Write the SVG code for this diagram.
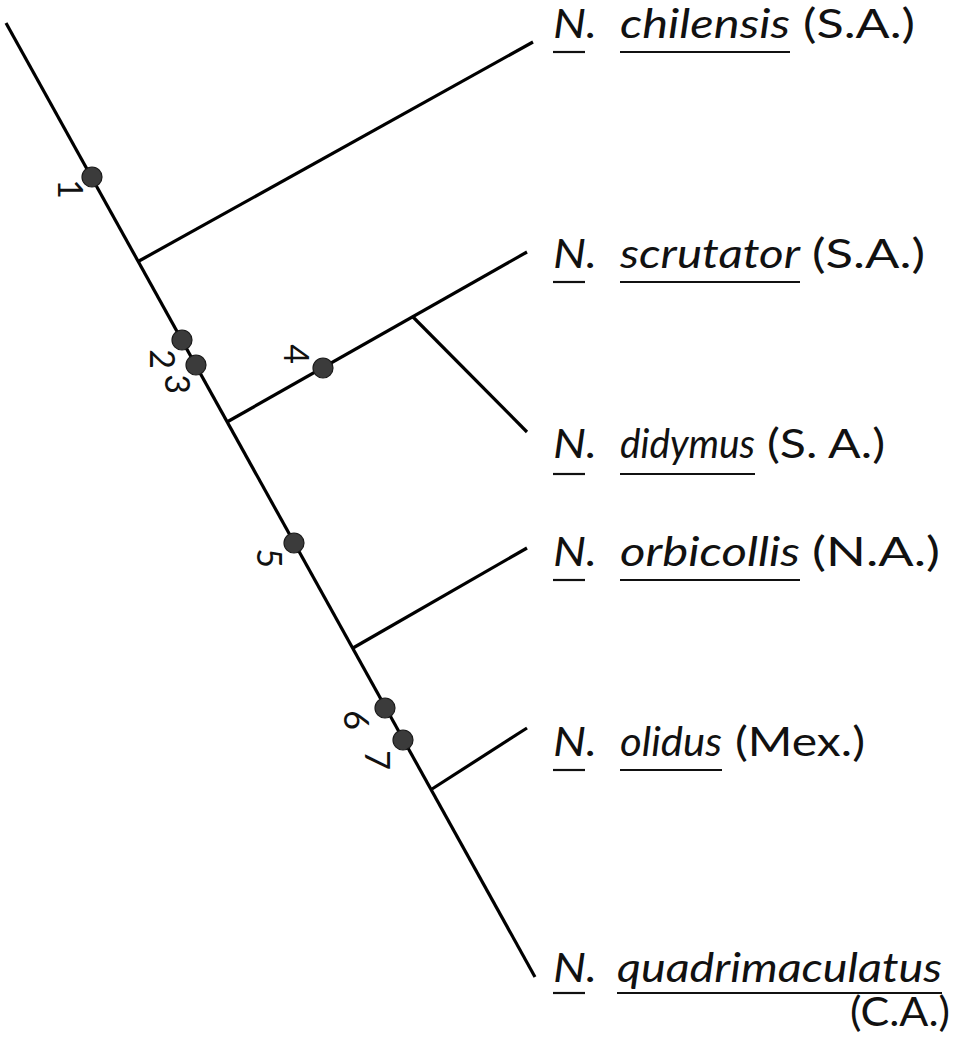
<svg xmlns="http://www.w3.org/2000/svg" width="969" height="1052" viewBox="0 0 969 1052">
<style>
.br{stroke:#000;stroke-width:3.2;fill:none;stroke-linecap:butt}
.ul{stroke:#111;stroke-width:2.2}
.dot{fill:#3b3b3b;stroke:#1a1a1a;stroke-width:1.2}
.sp{font-family:Lato,"Open Sans","Liberation Sans",sans-serif;font-size:40px;font-style:italic;fill:#111}
.rg{font-family:Lato,"Open Sans","Liberation Sans",sans-serif;font-size:40px;fill:#111}
.num{font-family:Lato,"Open Sans","Liberation Sans",sans-serif;font-size:34px;fill:#111;text-anchor:middle;dominant-baseline:central}
</style>
<rect width="969" height="1052" fill="#fff"/>
<g id="connectors">
<line class="br" x1="6" y1="23" x2="535" y2="977"/>
<line class="br" x1="139" y1="261" x2="533" y2="42"/>
<line class="br" x1="227" y1="422" x2="527" y2="252"/>
<line class="br" x1="413" y1="317" x2="527" y2="432"/>
<line class="br" x1="353" y1="648" x2="527" y2="548"/>
<line class="br" x1="432" y1="789" x2="527" y2="728"/>
</g>
<g id="characters">
<circle class="dot" cx="92" cy="177" r="10"/>
<circle class="dot" cx="182" cy="340" r="10"/>
<circle class="dot" cx="196" cy="365" r="10"/>
<circle class="dot" cx="323" cy="368" r="10"/>
<circle class="dot" cx="294" cy="543" r="10"/>
<circle class="dot" cx="385" cy="708" r="10"/>
<circle class="dot" cx="403" cy="740" r="10"/>
<text class="num" transform="translate(71,189) rotate(90)">1</text>
<text class="num" transform="translate(163,359) rotate(90)">2</text>
<text class="num" transform="translate(178,384) rotate(90)">3</text>
<text class="num" transform="translate(297,354) rotate(90)">4</text>
<text class="num" transform="translate(270,558) rotate(90)">5</text>
<text class="num" transform="translate(357,720) rotate(90)">6</text>
<text class="num" transform="translate(378,760) rotate(90)">7</text>
</g>
<g id="chilensis">
<text class="sp" x="553" y="38" textLength="44" lengthAdjust="spacingAndGlyphs">N.</text>
<text class="sp" x="620" y="38" textLength="170" lengthAdjust="spacingAndGlyphs">chilensis</text>
<text class="rg" x="803" y="38" textLength="112" lengthAdjust="spacingAndGlyphs">(S.A.)</text>
<line class="ul" x1="553" y1="52" x2="585" y2="52"/>
<line class="ul" x1="620" y1="52" x2="790" y2="52"/>
</g>
<g id="scrutator">
<text class="sp" x="553" y="268" textLength="44" lengthAdjust="spacingAndGlyphs">N.</text>
<text class="sp" x="620" y="268" textLength="180" lengthAdjust="spacingAndGlyphs">scrutator</text>
<text class="rg" x="812" y="268" textLength="113" lengthAdjust="spacingAndGlyphs">(S.A.)</text>
<line class="ul" x1="553" y1="282" x2="585" y2="282"/>
<line class="ul" x1="620" y1="282" x2="800" y2="282"/>
</g>
<g id="didymus">
<text class="sp" x="553" y="458" textLength="44" lengthAdjust="spacingAndGlyphs">N.</text>
<text class="sp" x="620" y="458" textLength="135" lengthAdjust="spacingAndGlyphs">didymus</text>
<text class="rg" x="767" y="458" textLength="118" lengthAdjust="spacingAndGlyphs">(S. A.)</text>
<line class="ul" x1="553" y1="474" x2="585" y2="474"/>
<line class="ul" x1="620" y1="474" x2="755" y2="474"/>
</g>
<g id="orbicollis">
<text class="sp" x="553" y="566" textLength="44" lengthAdjust="spacingAndGlyphs">N.</text>
<text class="sp" x="620" y="566" textLength="180" lengthAdjust="spacingAndGlyphs">orbicollis</text>
<text class="rg" x="812" y="566" textLength="128" lengthAdjust="spacingAndGlyphs">(N.A.)</text>
<line class="ul" x1="553" y1="580" x2="585" y2="580"/>
<line class="ul" x1="620" y1="580" x2="800" y2="580"/>
</g>
<g id="olidus">
<text class="sp" x="553" y="756" textLength="44" lengthAdjust="spacingAndGlyphs">N.</text>
<text class="sp" x="620" y="756" textLength="102" lengthAdjust="spacingAndGlyphs">olidus</text>
<text class="rg" x="735" y="756" textLength="130" lengthAdjust="spacingAndGlyphs">(Mex.)</text>
<line class="ul" x1="553" y1="770" x2="585" y2="770"/>
<line class="ul" x1="620" y1="770" x2="722" y2="770"/>
</g>
<g id="quadrimaculatus">
<text class="sp" x="553" y="982" textLength="44" lengthAdjust="spacingAndGlyphs">N.</text>
<text class="sp" x="617" y="982" textLength="325" lengthAdjust="spacingAndGlyphs">quadrimaculatus</text>
<text class="rg" x="850" y="1026" textLength="100" lengthAdjust="spacingAndGlyphs">(C.A.)</text>
<line class="ul" x1="553" y1="993" x2="585" y2="993"/>
<line class="ul" x1="617" y1="993" x2="942" y2="993"/>
</g>
</svg>
